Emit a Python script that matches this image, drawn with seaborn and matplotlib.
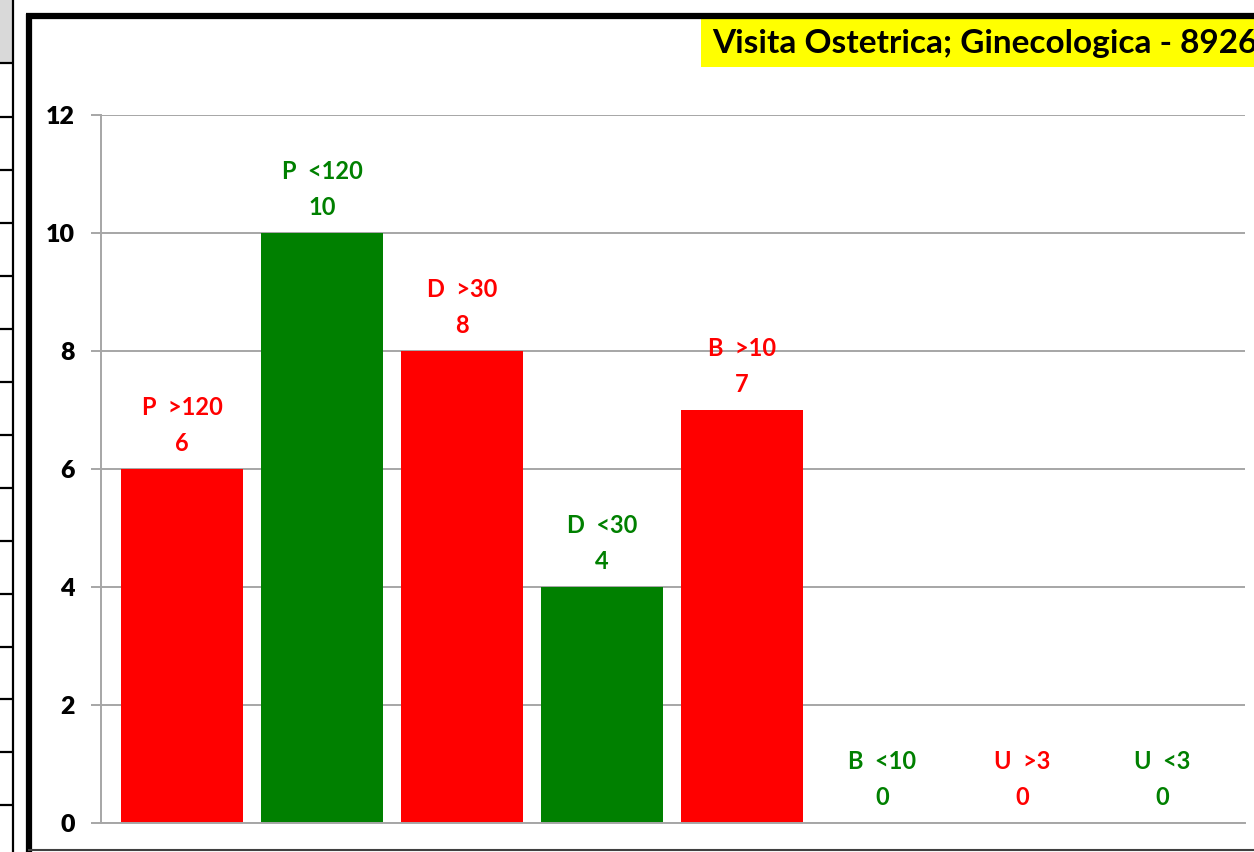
import matplotlib
matplotlib.use('Agg')
from matplotlib import pyplot as plt
from matplotlib.lines import Line2D
from matplotlib.patches import Rectangle
import seaborn as sns
import pandas as pd

sns.set_theme(style='white')
plt.rcParams['font.family'] = ['Lato', 'DejaVu Sans']

categorie = ['P  >120', 'P  <120', 'D  >30', 'D  <30', 'B  >10', 'B  <10', 'U  >3', 'U  <3']
valori = [6, 10, 8, 4, 7, 0, 0, 0]
colori = ['#ff0000', '#008000', '#ff0000', '#008000', '#ff0000', '#008000', '#ff0000', '#008000']
titolo = 'Visita Ostetrica; Ginecologica - 8926'

df = pd.DataFrame({'cat': categorie, 'val': valori})

W, H = 1254, 852
fig = plt.figure(figsize=(W / 100, H / 100), dpi=100)
fig.patch.set_facecolor('white')

def fx(px):
	return px / W

def fy(py):
	return 1 - py / H

# pezzo di foglio excel a sinistra
fig.add_artist(Rectangle((fx(0), fy(63)), fx(12), 63 / H, transform=fig.transFigure,
	facecolor='#d9d9d9', edgecolor='none'))
for yy in [63, 117, 170, 223, 276, 329, 382, 435, 488, 541, 594, 647, 699, 752, 805]:
	fig.add_artist(Line2D([fx(0), fx(12)], [fy(yy), fy(yy)], transform=fig.transFigure,
		color='black', lw=1.6))
fig.add_artist(Line2D([fx(12.5), fx(12.5)], [fy(0), fy(852)], transform=fig.transFigure,
	color='black', lw=1.6))

# bordo del grafico
fig.add_artist(Line2D([fx(28.5), fx(28.5)], [fy(14), fy(852)], transform=fig.transFigure,
	color='black', lw=4.5, solid_capstyle='butt'))
fig.add_artist(Line2D([fx(26), fx(1254)], [fy(16), fy(16)], transform=fig.transFigure,
	color='black', lw=4.5, solid_capstyle='butt'))
fig.add_artist(Line2D([fx(28), fx(1254)], [fy(850), fy(850)], transform=fig.transFigure,
	color='#404040', lw=1.5, solid_capstyle='butt'))

ax = fig.add_axes([fx(101), fy(823), fx(1245 - 101), (823 - 115) / H])
sns.barplot(data=df, x='cat', y='val', hue='cat', palette=colori, width=0.871,
	legend=False, ax=ax, saturation=1, linewidth=0)

ax.set_xlim((101 - 182) / 140, (1245 - 182) / 140)
ax.set_ylim(0, 12)
ax.set_yticks(range(0, 13, 2))
ax.set_xticks([])
ax.set_xlabel('')
ax.set_ylabel('')
ax.yaxis.grid(True, color='#a6a6a6', lw=1.4)
ax.set_axisbelow(True)
for s in ['top', 'right']:
	ax.spines[s].set_visible(False)
for s in ['left', 'bottom']:
	ax.spines[s].set_color('#a6a6a6')
	ax.spines[s].set_linewidth(1.4)
ax.tick_params(axis='y', left=True, length=7, width=1.4, color='#a6a6a6',
	labelsize=18, pad=12, labelcolor='black')
for t in ax.get_yticklabels():
	t.set_fontweight('heavy')

for i, (c, v, col) in enumerate(zip(categorie, valori, colori)):
	ax.annotate(str(v), (i, v), xytext=(0, 10), textcoords='offset points', ha='center',
		va='bottom', color=col, fontsize=17, fontweight='bold')
	ax.annotate(c, (i, v), xytext=(0, 36), textcoords='offset points', ha='center',
		va='bottom', color=col, fontsize=17, fontweight='bold')

# titolo su sfondo giallo, tagliato dal bordo come nell'originale
fig.add_artist(Rectangle((fx(701), fy(67)), fx(1254 - 701), 50 / H, transform=fig.transFigure,
	facecolor='#ffff00', edgecolor='none'))
fig.text(fx(712), fy(43), titolo, fontsize=24, fontweight='bold', color='black',
	ha='left', va='center')

fig.savefig('out.png', dpi=100)
